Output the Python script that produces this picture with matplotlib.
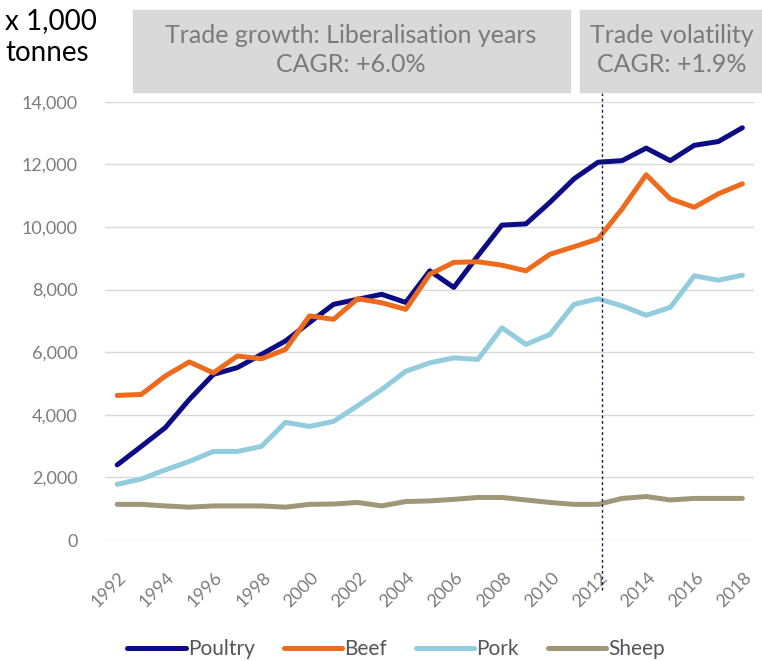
import matplotlib.pyplot as plt
from matplotlib.patches import Rectangle
from matplotlib.transforms import blended_transform_factory, ScaledTranslation
from matplotlib.ticker import FuncFormatter

plt.rcParams['font.family'] = ['Lato', 'DejaVu Sans']

years = list(range(1992, 2019))
poultry = [2400, 2990, 3590, 4490, 5290, 5510, 5930, 6360, 6950, 7530, 7690, 7850, 7590,
           8600, 8070, 9080, 10060, 10100, 10790, 11540, 12070, 12120, 12520, 12120, 12610, 12730, 13170]
beef = [4620, 4650, 5240, 5690, 5340, 5880, 5790, 6090, 7160, 7050, 7710, 7580, 7370,
        8490, 8870, 8890, 8780, 8600, 9130, 9370, 9620, 10580, 11670, 10900, 10630, 11060, 11380]
pork = [1780, 1950, 2240, 2510, 2830, 2830, 2990, 3760, 3630, 3790, 4290, 4810, 5390,
        5660, 5820, 5770, 6780, 6250, 6570, 7530, 7710, 7480, 7180, 7430, 8440, 8300, 8460]
sheep = [1140, 1140, 1090, 1050, 1090, 1090, 1090, 1050, 1140, 1150, 1200, 1090, 1230,
         1250, 1300, 1360, 1360, 1280, 1200, 1140, 1140, 1330, 1390, 1280, 1330, 1330, 1330]
series = [("Poultry", poultry, "#0c0c85"), ("Beef", beef, "#ee6b1e"),
          ("Pork", pork, "#93cddd"), ("Sheep", sheep, "#9f9878")]
split_year = 2012
tick_color = "#7c7c7c"

fig = plt.figure(figsize=(7.62, 6.61), dpi=100)
ax = fig.add_axes([0.138, 0.183, 0.852, 0.663])

for name, vals, col in series:
    ax.plot(years, vals, color=col, lw=3.6, label=name, solid_capstyle='round')

ax.set_xlim(1991.5, 2018.5)
ax.set_ylim(0, 14000)
ax.set_yticks(range(0, 14001, 2000))
ax.yaxis.set_major_formatter(FuncFormatter(lambda v, p: f"{int(v):,}"))
ax.set_xticks(years[::2])
ax.grid(axis='y', color='#d9d9d9', lw=1)
ax.set_axisbelow(True)
for s in ax.spines.values():
    s.set_visible(False)
ax.tick_params(length=0, colors=tick_color, labelsize=13)
ax.tick_params(axis='y', pad=20)
ax.tick_params(axis='x', pad=21)
shift = ScaledTranslation(1 / 100, 0, fig.dpi_scale_trans)
for lab in ax.get_xticklabels():
    lab.set_rotation(45)
    lab.set_ha('right')
    lab.set_rotation_mode('anchor')
    lab.set_transform(lab.get_transform() + shift)

# period divider
tr = blended_transform_factory(ax.transData, ax.transAxes)
ax.plot([split_year + 0.15, split_year + 0.15], [-0.115, 1.02], transform=tr, color='#1a1a3a',
        lw=1, ls=(0, (2, 2)), clip_on=False, zorder=5)

# period boxes
fig.patches.append(Rectangle((133 / 762, 1 - 92 / 661), 437 / 762, 82 / 661,
                             transform=fig.transFigure, color='#d9d9d9', zorder=0))
fig.patches.append(Rectangle((580 / 762, 1 - 92 / 661), 190 / 762, 82 / 661,
                             transform=fig.transFigure, color='#d9d9d9', zorder=0))
fig.text(351 / 762, 1 - 50 / 661, "Trade growth: Liberalisation years\nCAGR: +6.0%",
         ha='center', va='center', fontsize=18, color='#7a7a7a', linespacing=1.35)
fig.text(672 / 762, 1 - 50 / 661, "Trade volatility\nCAGR: +1.9%",
         ha='center', va='center', fontsize=18, color='#7a7a7a', linespacing=1.35)
fig.text(5 / 762, 1 - 37 / 661, "x 1,000\ntonnes", ha='left', va='center',
         fontsize=20, color='black', linespacing=1.25)

fig.legend(loc='center', bbox_to_anchor=(0.52, 0.018), ncol=4, frameon=False,
           fontsize=15, handlelength=2.8, handletextpad=0.1, columnspacing=1.4,
           labelcolor='#555555')

fig.savefig("out.png", dpi=100)
